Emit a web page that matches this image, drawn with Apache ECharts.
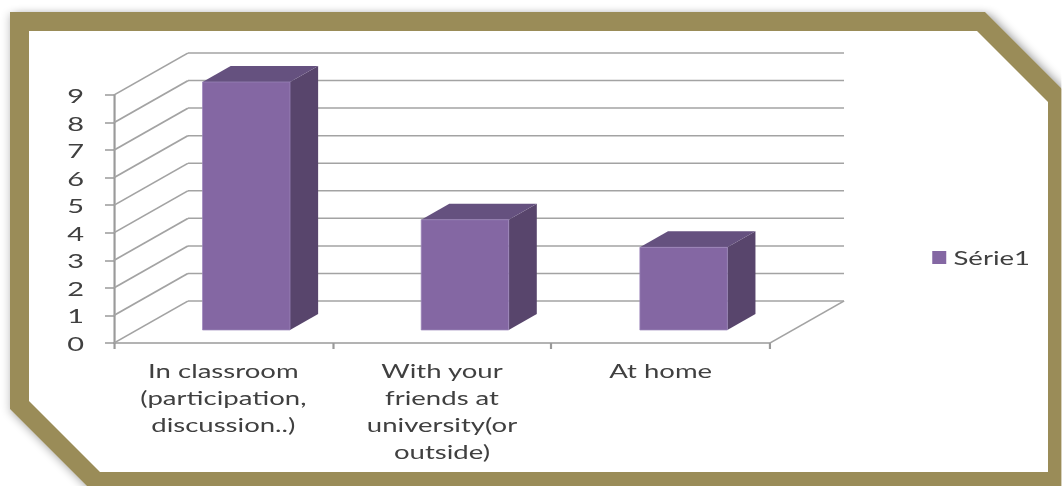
<!DOCTYPE html>
<html>
<head>
<meta charset="utf-8">
<style>
  html, body { margin: 0; padding: 0; background: #ffffff; overflow: hidden; }
  #chart { position: absolute; left: 0; top: 0; height: 486px; transform-origin: 0 0; }
</style>
<script src="https://cdn.jsdelivr.net/npm/echarts@6/dist/echarts.min.js"></script>
</head>
<body>
<div id="chart"></div>
<script>
// ---- data ----
const categories = [
  'In classroom\n(participation,\ndiscussion..)',
  'With your\nfriends at\nuniversity(or\noutside)',
  'At home'
];
const seriesName = 'Série1';
const values = [9, 4, 3];
const yTicks = [0, 1, 2, 3, 4, 5, 6, 7, 8, 9];

// ---- layout: the drawing is laid out narrow and stretched horizontally ----
const SX = 1.45;
const W = 1062, H = 486;
const el = document.getElementById('chart');
el.style.width = (W / SX) + 'px';
el.style.transform = 'scaleX(' + SX + ')';
const X = x => x / SX;
const pts = arr => arr.map(p => [X(p[0]), p[1]]);

// 3D depth of the plot box (back wall offset) and bar depth slice
const DX = X(74), DY = -42;
const T0 = 0.31, T1 = 0.69;
const BAR_FRAC = 0.4;

const GRID_COLOR = '#a3a3a3';
const AXIS_COLOR = '#9a9a9a';
const TEXT_COLOR = '#404040';
const FRAME_COLOR = '#9a8c59';
const FACE = '#8467a3', SIDE = '#58456c', TOP = '#65517f';
const FONT = 'Lato';

function renderWalls(params, api) {
  const cs = params.coordSys;
  const v = api.value(1);
  const y = api.coord([0, v])[1];
  const x0 = cs.x, x1 = cs.x + cs.width;
  const style = { stroke: GRID_COLOR, lineWidth: 1.5, fill: null };
  const children = [
    { type: 'line', shape: { x1: x0, y1: y, x2: x0 + DX, y2: y + DY }, style },
    { type: 'line', shape: { x1: x0 + DX, y1: y + DY, x2: x1 + DX, y2: y + DY }, style }
  ];
  if (v === 0) {
    children.push({ type: 'line', shape: { x1: x1, y1: y, x2: x1 + DX, y2: y + DY }, style });
  }
  return { type: 'group', children };
}

function renderBar(params, api) {
  const idx = api.value(0), val = api.value(1);
  const top = api.coord([idx, val]);
  const base = api.coord([idx, 0]);
  const bw = api.size([1, 0])[0] * BAR_FRAC;
  const fx0 = top[0] - bw / 2 + DX * T0, fx1 = fx0 + bw;
  const fyT = top[1] + DY * T0, fyB = base[1] + DY * T0;
  const ox = DX * (T1 - T0), oy = DY * (T1 - T0);
  return {
    type: 'group',
    children: [
      { type: 'polygon', shape: { points: [[fx1, fyT], [fx1 + ox, fyT + oy], [fx1 + ox, fyB + oy], [fx1, fyB]] },
        style: { fill: SIDE } },
      { type: 'polygon', shape: { points: [[fx0, fyT], [fx1, fyT], [fx1 + ox, fyT + oy], [fx0 + ox, fyT + oy]] },
        style: { fill: TOP } },
      { type: 'rect', shape: { x: fx0, y: fyT, width: bw, height: fyB - fyT },
        style: { fill: FACE, stroke: '#9c86bb', lineWidth: 0.6 } }
    ]
  };
}

const chart = echarts.init(el, null, { renderer: 'svg', width: W / SX, height: H });

chart.setOption({
  animation: false,
  backgroundColor: '#ffffff',
  graphic: [
    {
      type: 'polygon', z: -20, silent: true,
      shape: { points: pts([[10, 12], [985, 12], [1067, 94], [1067, 491], [92, 491], [10, 409]]) },
      style: { fill: FRAME_COLOR, shadowBlur: 8, shadowColor: 'rgba(0,0,0,0.45)', shadowOffsetX: 2, shadowOffsetY: 2 }
    },
    {
      type: 'polygon', z: -19, silent: true,
      shape: { points: pts([[29, 31], [977, 31], [1048, 102], [1048, 472], [100, 472], [29, 401]]) },
      style: { fill: '#ffffff' }
    }
  ],
  grid: { left: X(114), right: W / SX - X(770), top: 95, bottom: H - 343, containLabel: false },
  legend: {
    data: [seriesName],
    left: X(925), top: 243,
    icon: 'rect', itemWidth: X(14), itemHeight: 13,
    textStyle: { color: TEXT_COLOR, fontFamily: FONT, fontSize: 19 },
    selectedMode: false
  },
  xAxis: {
    type: 'category',
    data: categories,
    boundaryGap: true,
    axisLine: { lineStyle: { color: AXIS_COLOR, width: 1.5 } },
    axisTick: { show: true, length: 6, lineStyle: { color: AXIS_COLOR, width: 1.5 } },
    axisLabel: { interval: 0, margin: 14, color: TEXT_COLOR, fontFamily: FONT, fontSize: 19, lineHeight: 27 },
    splitLine: { show: false }
  },
  yAxis: {
    type: 'value',
    min: yTicks[0], max: yTicks[yTicks.length - 1], interval: 1,
    axisLine: { show: true, lineStyle: { color: AXIS_COLOR, width: 1.5 } },
    axisTick: { show: true, length: X(9), lineStyle: { color: AXIS_COLOR, width: 1.5 } },
    axisLabel: { margin: X(30), color: TEXT_COLOR, fontFamily: FONT, fontSize: 20 },
    splitLine: { show: false }
  },
  series: [
    {
      type: 'custom',
      name: 'walls',
      silent: true,
      z: 1,
      renderItem: renderWalls,
      data: yTicks.map(v => [0, v])
    },
    {
      type: 'custom',
      name: seriesName,
      z: 3,
      itemStyle: { color: FACE },
      renderItem: renderBar,
      data: values.map((v, i) => [i, v])
    }
  ]
});
</script>
</body>
</html>
